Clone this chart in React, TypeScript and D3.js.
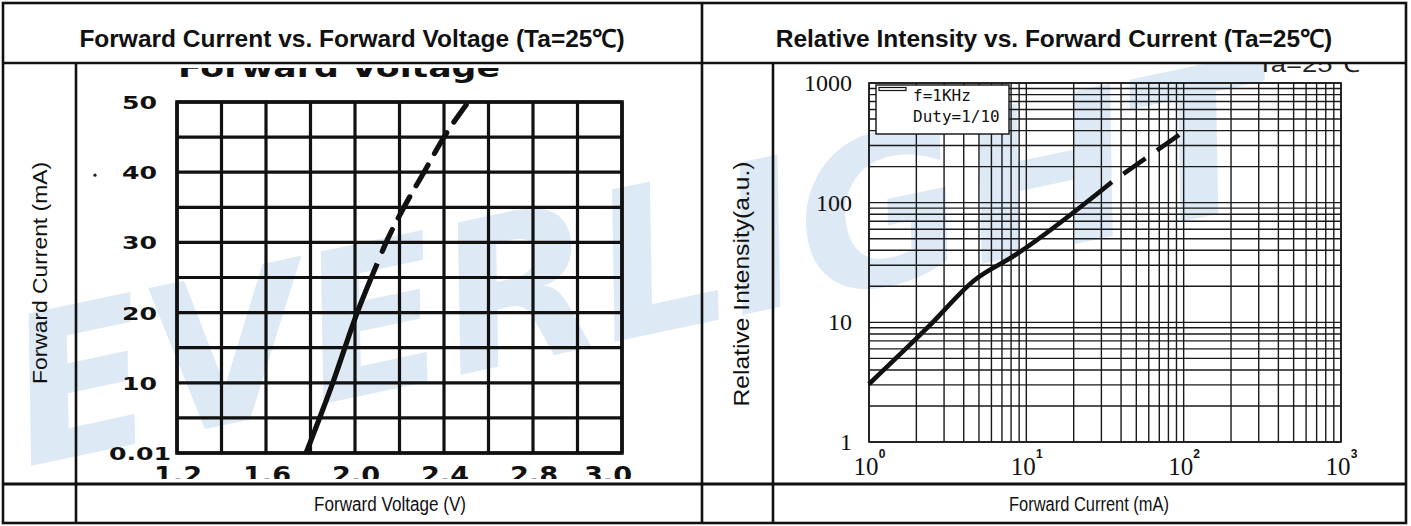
import * as React from 'react';
import * as d3 from 'd3';

// ---- left chart: forward current vs forward voltage ----
const voltageTicks = [1.2, 1.6, 2.0, 2.4, 2.8, 3.0];
const currentTicks = [0, 10, 20, 30, 40, 50];
const currentTickLabels = ["0.01", "10", "20", "30", "40", "50"];
// [V, mA]
const ivSolid = [[1.78, 0], [1.9, 10], [2.01, 20], [2.1, 27]];
const ivDashed = [[2.1, 27], [2.14, 30], [2.22, 35], [2.31, 40], [2.4, 45], [2.5, 49.6]];

// ---- right chart: relative intensity vs forward current ----
const currentDecades = [1, 10, 100, 1000];
const decadeExponents = ["0", "1", "2", "3"];
const intensityTicks = [1, 10, 100, 1000];
const intensityTickLabels = ["1", "10", "100", "1000"];
// [mA, a.u.]
const lumSolid = [[1, 3.05], [2.37, 9.1], [4.7, 22.6], [8.5, 36.5], [35, 149]];
const lumDashed = [[35, 149], [95, 374]];
const legendLines = ["f=1KHz", "Duty=1/10"];

const W = 1411;
const H = 526;

export default function App() {
    const ref = React.useRef<SVGSVGElement>(null);

    React.useEffect(() => {
        const svg = d3.select(ref.current);
        svg.selectAll("*").remove();

        const defs = svg.append("defs");
        defs.append("clipPath").attr("id", "chartRow")
            .append("rect").attr("x", 3).attr("y", 64).attr("width", 1403).attr("height", 420);
        defs.append("clipPath").attr("id", "topCut")
            .append("rect").attr("x", 0).attr("y", 68).attr("width", W).attr("height", 400);
        defs.append("clipPath").attr("id", "topCutR")
            .append("rect").attr("x", 0).attr("y", 64).attr("width", W).attr("height", 400);
        defs.append("clipPath").attr("id", "bottomCut")
            .append("rect").attr("x", 0).attr("y", 455).attr("width", W).attr("height", 24);

        svg.append("rect").attr("width", W).attr("height", H).attr("fill", "#fff");

        // watermark
        svg.append("g").attr("clip-path", "url(#chartRow)")
            .append("text")
            .attr("x", 640).attr("y", 335)
            .attr("text-anchor", "middle")
            .attr("transform", "rotate(-12,640,265)")
            .style("font-family", "DejaVu Sans")
            .style("font-weight", "bold")
            .style("font-style", "italic")
            .style("font-size", "205px")
            .attr("fill", "#dde9f5")
            .text("EVERLIGHT");

        // ---------- left chart ----------
        const x1 = d3.scaleLinear().domain([1.2, 3.2]).range([177, 622]);
        const y1 = d3.scaleLinear().domain([0, 50]).range([453, 102]);
        const g1 = svg.append("g");

        g1.selectAll(".vx").data(d3.range(0, 11).map(i => 1.2 + i * 0.2)).enter()
            .append("line")
            .attr("x1", d => x1(d)).attr("x2", d => x1(d))
            .attr("y1", y1(0)).attr("y2", y1(50))
            .attr("stroke", "#111").attr("stroke-width", 3.2);
        g1.selectAll(".hy").data(d3.range(0, 11).map(i => i * 5)).enter()
            .append("line")
            .attr("x1", x1(1.2)).attr("x2", x1(3.2))
            .attr("y1", d => y1(d)).attr("y2", d => y1(d))
            .attr("stroke", "#111").attr("stroke-width", 3.2);
        g1.append("rect")
            .attr("x", x1(1.2)).attr("y", y1(50))
            .attr("width", x1(3.2) - x1(1.2)).attr("height", y1(0) - y1(50))
            .attr("fill", "none").attr("stroke", "#111").attr("stroke-width", 3.6);

        const line1 = d3.line<number[]>().x(d => x1(d[0])).y(d => y1(d[1])).curve(d3.curveMonotoneX);
        g1.append("path").attr("d", line1(ivSolid)).attr("fill", "none")
            .attr("stroke", "#111").attr("stroke-width", 5.2);
        g1.append("path").attr("d", line1(ivDashed)).attr("fill", "none")
            .attr("stroke", "#111").attr("stroke-width", 5.2)
            .attr("stroke-linecap", "round")
            .attr("stroke-dasharray", "24 13").attr("stroke-dashoffset", 24);

        // y labels
        currentTicks.forEach((v, i) => {
            const lx = v === 0 ? x1(1.2) - 6 : x1(1.2) - 20;
            g1.append("g")
                .attr("transform", `translate(${lx},${y1(v) + 7}) scale(1.4,1)`)
                .append("text")
                .attr("text-anchor", "end")
                .style("font-family", "DejaVu Sans").style("font-weight", "bold")
                .style("font-size", "18px").attr("fill", "#111")
                .text(currentTickLabels[i]);
        });
        g1.append("circle").attr("cx", x1(1.2) - 82).attr("cy", y1(40) + 3).attr("r", 1.6).attr("fill", "#222");

        // x labels (bottom clipped away as in the scan)
        const xl = g1.append("g").attr("clip-path", "url(#bottomCut)");
        voltageTicks.forEach((v, i) => {
            const last = i === voltageTicks.length - 1;
            const lx = last ? x1(3.2) - 14 : x1(v) + 1;
            xl.append("g")
                .attr("transform", `translate(${lx},${483}) scale(1.18,1)`)
                .append("text")
                .attr("text-anchor", "middle")
                .style("font-family", "DejaVu Sans").style("font-weight", "bold")
                .style("font-size", "23px").attr("fill", "#111")
                .text(v.toFixed(1));
        });

        // clipped leftover title of the scanned graph
        g1.append("g").attr("clip-path", "url(#topCut)")
            .append("text")
            .attr("x", 178).attr("y", 77)
            .attr("textLength", 322).attr("lengthAdjust", "spacingAndGlyphs")
            .style("font-family", "DejaVu Sans").style("font-weight", "bold")
            .style("font-size", "26px").attr("fill", "#111")
            .text("Forward Voltage");

        // ---------- right chart ----------
        const x2 = d3.scaleLog().domain([1, 1000]).range([869, 1341]);
        const y2 = d3.scaleLog().domain([1, 1000]).range([442, 83]);
        const g2 = svg.append("g");

        g2.selectAll(".vx").data(x2.ticks()).enter()
            .append("line")
            .attr("x1", d => x2(d)).attr("x2", d => x2(d))
            .attr("y1", y2(1)).attr("y2", y2(1000))
            .attr("stroke", "#1a1a1a").attr("stroke-width", 1.4);
        g2.selectAll(".hy").data(y2.ticks()).enter()
            .append("line")
            .attr("x1", x2(1)).attr("x2", x2(1000))
            .attr("y1", d => y2(d)).attr("y2", d => y2(d))
            .attr("stroke", "#1a1a1a").attr("stroke-width", 1.4);
        g2.append("rect")
            .attr("x", x2(1)).attr("y", y2(1000))
            .attr("width", x2(1000) - x2(1)).attr("height", y2(1) - y2(1000))
            .attr("fill", "none").attr("stroke", "#1a1a1a").attr("stroke-width", 1.6);

        const line2 = d3.line<number[]>().x(d => x2(d[0])).y(d => y2(d[1])).curve(d3.curveMonotoneX);
        g2.append("path").attr("d", line2(lumSolid)).attr("fill", "none")
            .attr("stroke", "#111").attr("stroke-width", 4.6);
        g2.append("path").attr("d", line2(lumDashed)).attr("fill", "none")
            .attr("stroke", "#111").attr("stroke-width", 4.6)
            .attr("stroke-dasharray", "27 14").attr("stroke-dashoffset", 27);

        // legend
        const lg = g2.append("g");
        lg.append("rect").attr("x", 876).attr("y", 85).attr("width", 133).attr("height", 49)
            .attr("fill", "#fff").attr("stroke", "#111").attr("stroke-width", 1.4);
        lg.append("rect").attr("x", 879).attr("y", 87.5).attr("width", 27).attr("height", 3)
            .attr("fill", "#fff").attr("stroke", "#111").attr("stroke-width", 1.2);
        legendLines.forEach((t, i) => {
            lg.append("text").attr("x", 913).attr("y", 101 + i * 21)
                .style("font-family", "DejaVu Sans Mono").style("font-size", "16px")
                .attr("fill", "#111").text(t);
        });

        intensityTicks.forEach((v, i) => {
            g2.append("text")
                .attr("x", x2(1) - 17).attr("y", y2(v) + 8)
                .attr("text-anchor", "end")
                .style("font-family", "Liberation Serif").style("font-size", "24px")
                .attr("fill", "#111").text(intensityTickLabels[i]);
        });
        currentDecades.forEach((v, i) => {
            g2.append("text")
                .attr("x", x2(v) - 3).attr("y", 475)
                .attr("text-anchor", "middle")
                .style("font-family", "Liberation Serif").style("font-size", "25px")
                .attr("fill", "#111").text("10");
            g2.append("text")
                .attr("x", x2(v) + 13).attr("y", 458)
                .attr("text-anchor", "middle")
                .style("font-family", "Liberation Sans").style("font-weight", "bold")
                .style("font-size", "12px")
                .attr("fill", "#111").text(decadeExponents[i]);
        });

        g2.append("g").attr("clip-path", "url(#topCutR)")
            .append("text")
            .attr("x", 1257).attr("y", 72)
            .attr("textLength", 103).attr("lengthAdjust", "spacingAndGlyphs")
            .style("font-family", "Liberation Sans").style("font-size", "22px")
            .attr("fill", "#222").text("Ta=25℃");

        // ---------- table frame ----------
        const frame = svg.append("g").attr("stroke", "#111").attr("stroke-width", 2.6).attr("fill", "none");
        frame.append("rect").attr("x", 3).attr("y", 3).attr("width", 1403).attr("height", 520);
        frame.append("line").attr("x1", 3).attr("x2", 1406).attr("y1", 63).attr("y2", 63);
        frame.append("line").attr("x1", 3).attr("x2", 1406).attr("y1", 484).attr("y2", 484).attr("stroke-width", 3);
        frame.append("line").attr("x1", 702).attr("x2", 702).attr("y1", 3).attr("y2", 523);
        frame.append("line").attr("x1", 76).attr("x2", 76).attr("y1", 63).attr("y2", 523);
        frame.append("line").attr("x1", 773).attr("x2", 773).attr("y1", 63).attr("y2", 523);

        // ---------- texts of the table ----------
        const txt = svg.append("g").style("font-family", "Liberation Sans").attr("fill", "#111");
        txt.append("text").attr("x", 352).attr("y", 47).attr("text-anchor", "middle")
            .style("font-weight", "bold").style("font-size", "24.5px")
            .text("Forward Current vs. Forward Voltage (Ta=25℃)");
        txt.append("text").attr("x", 1054).attr("y", 47).attr("text-anchor", "middle")
            .style("font-weight", "bold").style("font-size", "24.5px")
            .text("Relative Intensity vs. Forward Current (Ta=25℃)");
        txt.append("text").attr("transform", "translate(47,273) rotate(-90)").attr("text-anchor", "middle")
            .attr("textLength", 222).attr("lengthAdjust", "spacingAndGlyphs")
            .style("font-size", "21px").text("Forward Current (mA)");
        txt.append("text").attr("transform", "translate(749,284) rotate(-90)").attr("text-anchor", "middle")
            .attr("textLength", 245).attr("lengthAdjust", "spacingAndGlyphs")
            .style("font-size", "22px").text("Relative Intensity(a.u.)");
        txt.append("text").attr("x", 390).attr("y", 511).attr("text-anchor", "middle")
            .attr("textLength", 152).attr("lengthAdjust", "spacingAndGlyphs")
            .style("font-size", "20px").text("Forward Voltage (V)");
        txt.append("text").attr("x", 1089).attr("y", 511).attr("text-anchor", "middle")
            .attr("textLength", 160).attr("lengthAdjust", "spacingAndGlyphs")
            .style("font-size", "20px").text("Forward Current (mA)");
    }, []);

    return (
        <div>
            <style>{`body{margin:0}`}</style>
            <svg ref={ref} width={W} height={H} style={{display: "block"}} />
        </div>
    );
}
